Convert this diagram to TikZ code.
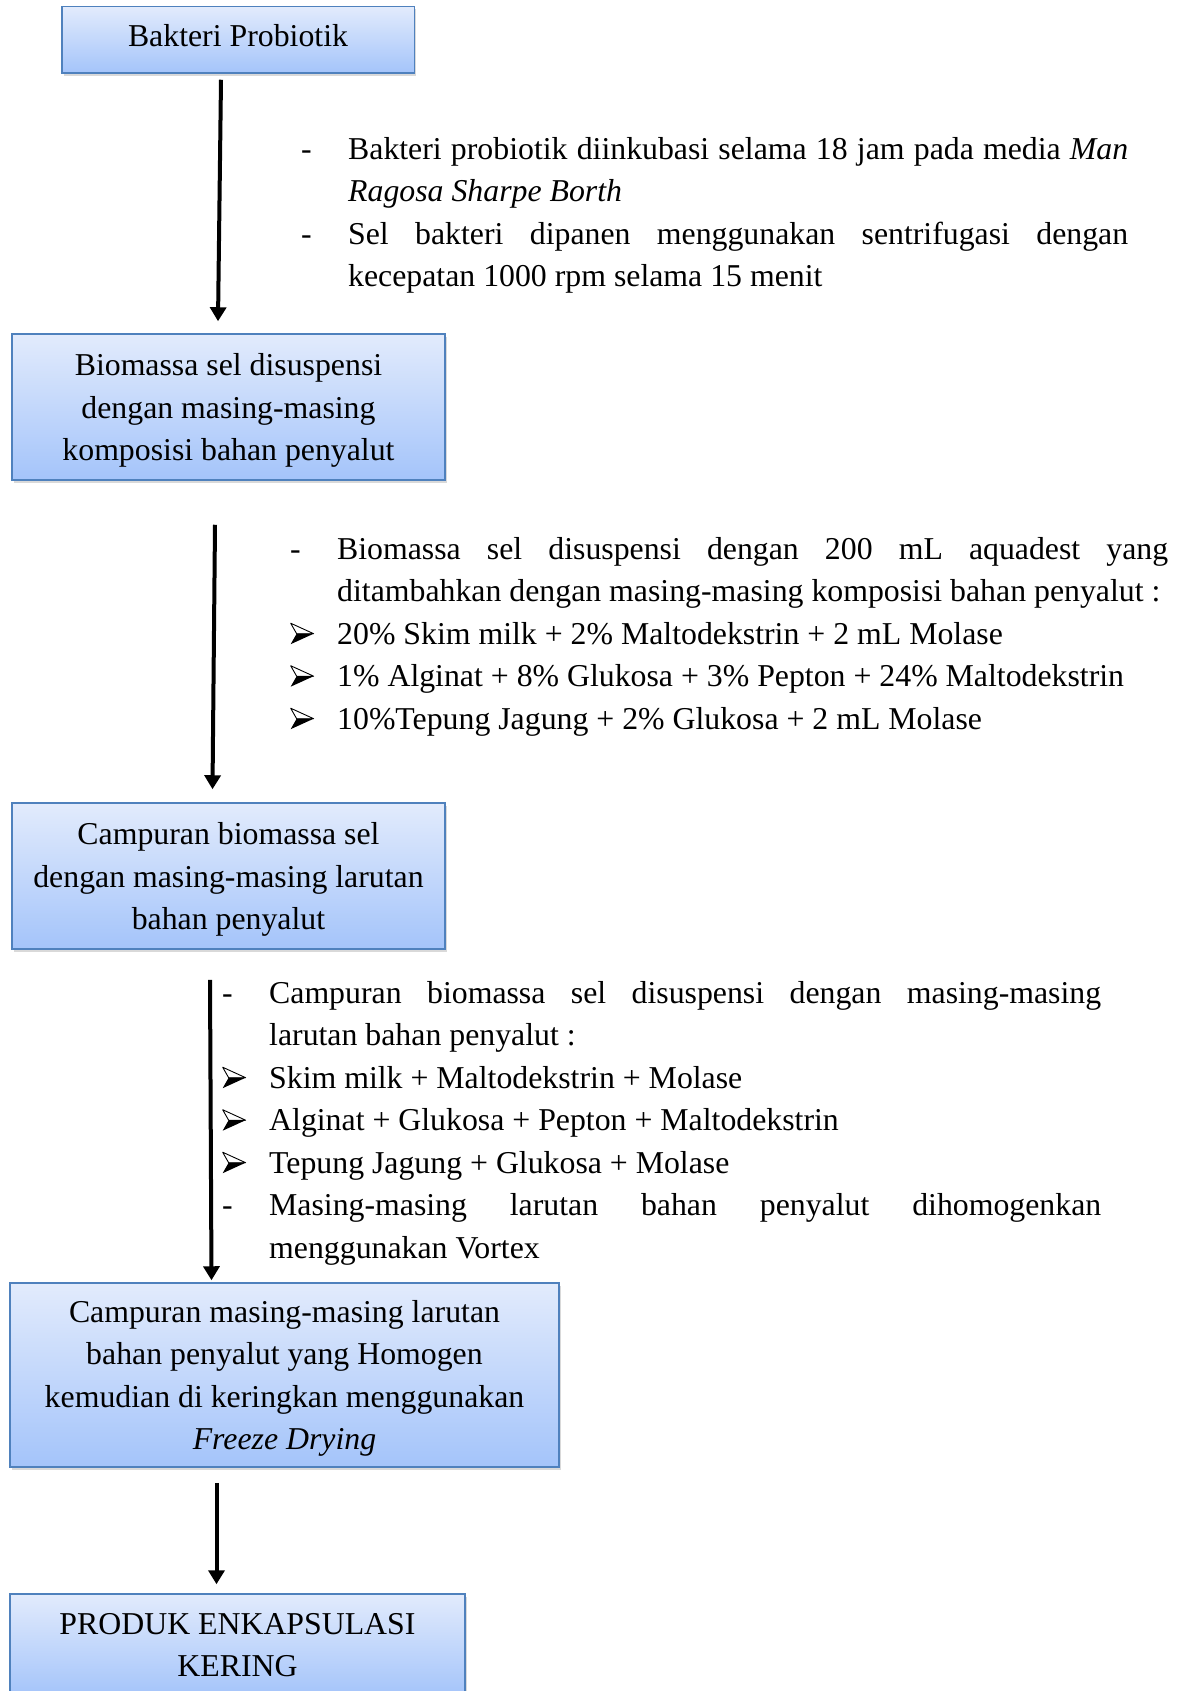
\documentclass[tikz,border=0pt]{standalone}
\usepackage{fontspec}
\setmainfont{Liberation Serif}
\usetikzlibrary{arrows.meta,shadows}

\definecolor{boxline}{RGB}{79,129,189}
\definecolor{boxtop}{RGB}{226,235,252}
\definecolor{boxbottom}{RGB}{164,196,250}

\newlength\markw
\newcommand{\arrowmark}{\tikz[x=1pt,y=1pt,baseline=0pt]{%
  \fill (0,0) -- (23,10.5) -- (6,10.5) -- cycle;
  \draw[line width=0.9pt,line join=round] (0,21) -- (23,10.5) -- (6,10.5) -- cycle;}}
\newcommand{\dashitem}[1]{\par\noindent\hangindent=\markw\makebox[\markw][l]{-}#1\par}
\newcommand{\arrowitem}[1]{\par\noindent\hangindent=\markw\makebox[\markw][l]{\arrowmark}#1\par}

\hyphenpenalty=10000
\exhyphenpenalty=10000
\tolerance=9999

\begin{document}
\begin{tikzpicture}[
  x=1pt,y=-1pt,
  >={Triangle[length=14pt,width=16pt]},
  font=\fontsize{31.8}{42.5}\selectfont,
  box/.style={draw=boxline,line width=1.5pt,top color=boxtop,
    bottom color=boxbottom,align=center,inner sep=0pt,text depth=0pt,
    drop shadow={shadow xshift=2pt,shadow yshift=-3pt,opacity=0.3}},
  note/.style={anchor=north west,inner sep=0pt,align=justify},
  flow/.style={->,line width=4pt}
]
  \useasboundingbox (0,0) rectangle (1183,1691);

  % process steps
  \node[box,minimum width=352.5pt,minimum height=66.5pt,text depth=9pt] (probiotik)
    at (238,39.75) {Bakteri Probiotik};
  \node[box,minimum width=433pt,minimum height=146pt] (biomassa)
    at (228.5,407) {Biomassa sel disuspensi\\dengan masing-masing\\komposisi bahan penyalut};
  \node[box,minimum width=433pt,minimum height=146pt] (campuran)
    at (228.5,876) {Campuran biomassa sel\\dengan masing-masing larutan\\bahan penyalut};
  \node[box,minimum width=549pt,minimum height=184pt] (homogen)
    at (284.5,1375) {Campuran masing-masing larutan\\bahan penyalut yang Homogen\\kemudian di keringkan menggunakan\\\textit{Freeze Drying}};
  \node[box,minimum width=455pt,minimum height=102pt] (produk)
    at (237.5,1645) {PRODUK ENKAPSULASI\\KERING};

  % notes beside the arrows
  \node[note,text width=827pt] (inkubasi) at (301,116.5) {\setlength\markw{47pt}%
    \dashitem{Bakteri probiotik diinkubasi selama 18 jam pada media \textit{Man}\linebreak
      \textit{Ragosa Sharpe Borth}}
    \dashitem{Sel bakteri dipanen menggunakan sentrifugasi dengan\linebreak
      kecepatan 1000 rpm selama 15 menit}};
  \node[note,text width=878pt] (suspensi) at (290,516.5) {\setlength\markw{47pt}%
    \dashitem{Biomassa sel disuspensi dengan 200 mL aquadest yang\linebreak
      ditambahkan dengan masing-masing komposisi bahan penyalut :}
    \arrowitem{20\% Skim milk + 2\% Maltodekstrin + 2 mL Molase}
    \arrowitem{1\% Alginat + 8\% Glukosa + 3\% Pepton + 24\% Maltodekstrin}
    \arrowitem{10\%Tepung Jagung + 2\% Glukosa + 2 mL Molase}};
  \node[note,text width=879pt] (larutan) at (222,960.5) {\setlength\markw{47pt}%
    \dashitem{Campuran biomassa sel disuspensi dengan masing-masing\linebreak
      larutan bahan penyalut :}
    \arrowitem{Skim milk + Maltodekstrin + Molase}
    \arrowitem{Alginat + Glukosa + Pepton + Maltodekstrin}
    \arrowitem{Tepung Jagung + Glukosa + Molase}
    \dashitem{Masing-masing larutan bahan penyalut dihomogenkan\linebreak
      menggunakan Vortex}};

  % arrows
  \draw[flow] ([shift={(-17,6)}]probiotik.south) -- ([shift={(-10.5,-12)}]biomassa.north);
  \draw[flow] ([shift={(-13.5,44)}]biomassa.south) -- ([shift={(-16,-13)}]campuran.north);
  \draw[flow] ([shift={(-18.5,30)}]campuran.south) -- ([shift={(-73,-2)}]homogen.north);
  \draw[flow] ([shift={(-68,15)}]homogen.south) -- ([shift={(-21,-9)}]produk.north);
\end{tikzpicture}
\end{document}
